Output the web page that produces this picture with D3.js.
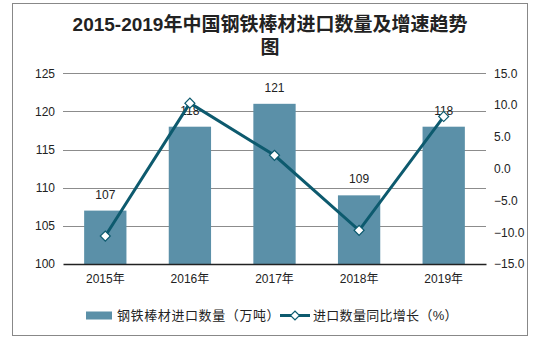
<!DOCTYPE html>
<html><head><meta charset="utf-8">
<script src="https://cdnjs.cloudflare.com/ajax/libs/d3/7.8.5/d3.min.js"></script>
<style>
html,body{margin:0;padding:0;background:#fff;}
text{font-family:"Liberation Sans",Arial,"Noto Sans CJK SC",sans-serif;}
</style></head>
<body>
<svg id="c" width="539" height="343"></svg>
<script>
const categories = ["2015年","2016年","2017年","2018年","2019年"];
const importVolume = [107, 118, 121, 109, 118];
const growthRate = [-10.6, 10.3, 2.1, -9.7, 8.2];
const leftTicks = [100, 105, 110, 115, 120, 125];
const rightTicks = [-15, -10, -5, 0, 5, 10, 15];
const titleLines = ["2015-2019年中国钢铁棒材进口数量及增速趋势", "图"];
const legendLabels = ["钢铁棒材进口数量（万吨）", "进口数量同比增长（%）"];

const barColor = "#5b90a8", lineColor = "#0d5a6e";
const svg = d3.select("#c");
const m = {left: 63, right: 486, top: 73.3, bottom: 264};

// frame
svg.append("rect").attr("x", 12.5).attr("y", 3.5).attr("width", 515).attr("height", 332)
  .attr("fill", "none").attr("stroke", "#888").attr("stroke-width", 1);

// title
svg.append("g").selectAll("text").data(titleLines).join("text")
  .attr("x", 270).attr("y", (d, i) => 31 + i * 23)
  .attr("text-anchor", "middle").attr("font-size", 19).attr("font-weight", "bold")
  .attr("fill", "#222").text(d => d);

const x = d3.scaleBand().domain(categories).range([m.left, m.right]).paddingInner(0.5).paddingOuter(0.25);
const xc = d3.scaleBand().domain(categories).range([m.left, m.right]);
const yL = d3.scaleLinear().domain([100, 125]).range([m.bottom, m.top]);
const yR = d3.scaleLinear().domain([-15, 15]).range([m.bottom, m.top]);

// gridlines
svg.append("g").selectAll("line").data(leftTicks.slice(1)).join("line")
  .attr("x1", m.left).attr("x2", m.right)
  .attr("y1", d => Math.round(yL(d)) + 0.5).attr("y2", d => Math.round(yL(d)) + 0.5)
  .attr("stroke", "#8c8c8c").attr("stroke-width", 1);

// left axis
const axL = d3.axisLeft(yL).tickValues(leftTicks).tickSize(0).tickPadding(8);
const gL = svg.append("g").attr("transform", `translate(${m.left},0)`).call(axL);
gL.select(".domain").remove();
gL.selectAll("text").attr("font-size", 12).attr("fill", "#222")
  .style("font-family", '"Liberation Sans",Arial,sans-serif');

// right axis
const axR = d3.axisRight(yR).tickValues(rightTicks).tickSize(0).tickPadding(8).tickFormat(d3.format(".1f"));
const gR = svg.append("g").attr("transform", `translate(${m.right},0)`).call(axR);
gR.select(".domain").remove();
gR.selectAll("text").attr("font-size", 12).attr("fill", "#222")
  .style("font-family", '"Liberation Sans",Arial,sans-serif');

// bars
svg.append("g").selectAll("rect").data(categories).join("rect")
  .attr("x", d => x(d)).attr("width", x.bandwidth())
  .attr("y", (d, i) => yL(importVolume[i]))
  .attr("height", (d, i) => yL(100) - yL(importVolume[i]))
  .attr("fill", barColor);

// bottom axis
const axB = d3.axisBottom(xc).tickSize(0).tickPadding(10);
const gB = svg.append("g").attr("transform", `translate(0,${m.bottom})`).call(axB);
gB.select(".domain").attr("stroke", "#222").attr("stroke-width", 1.5);
gB.selectAll("text").attr("font-size", 12).attr("fill", "#222");

// bar labels
svg.append("g").selectAll("text").data(categories).join("text")
  .attr("x", d => xc(d) + xc.bandwidth() / 2)
  .attr("y", (d, i) => yL(importVolume[i]) - 12)
  .attr("text-anchor", "middle").attr("font-size", 12).attr("fill", "#222")
  .text((d, i) => importVolume[i]);

// line
const line = d3.line().x((d, i) => xc(categories[i]) + xc.bandwidth() / 2).y(d => yR(d));
svg.append("path").datum(growthRate).attr("d", line)
  .attr("fill", "none").attr("stroke", lineColor).attr("stroke-width", 3);
svg.append("g").selectAll("path").data(growthRate).join("path")
  .attr("d", d3.symbol().type(d3.symbolSquare).size(50))
  .attr("transform", (d, i) => `translate(${xc(categories[i]) + xc.bandwidth() / 2},${yR(d)}) rotate(45)`)
  .attr("fill", "#fff").attr("stroke", lineColor).attr("stroke-width", 1.2);

// legend
const lg = svg.append("g");
lg.append("rect").attr("x", 86).attr("y", 311.5).attr("width", 26).attr("height", 8).attr("fill", barColor);
lg.append("text").attr("x", 117).attr("y", 320).attr("font-size", 13).attr("letter-spacing", 0.6)
  .attr("fill", "#222").text(legendLabels[0]);
lg.append("line").attr("x1", 280).attr("x2", 310).attr("y1", 315.5).attr("y2", 315.5)
  .attr("stroke", lineColor).attr("stroke-width", 3);
lg.append("path").attr("d", d3.symbol().type(d3.symbolSquare).size(40))
  .attr("transform", "translate(295,315.5) rotate(45)")
  .attr("fill", "#fff").attr("stroke", lineColor).attr("stroke-width", 1.2);
lg.append("text").attr("x", 313).attr("y", 320).attr("font-size", 13).attr("letter-spacing", 0.3)
  .attr("fill", "#222").text(legendLabels[1]);
</script>
</body></html>
